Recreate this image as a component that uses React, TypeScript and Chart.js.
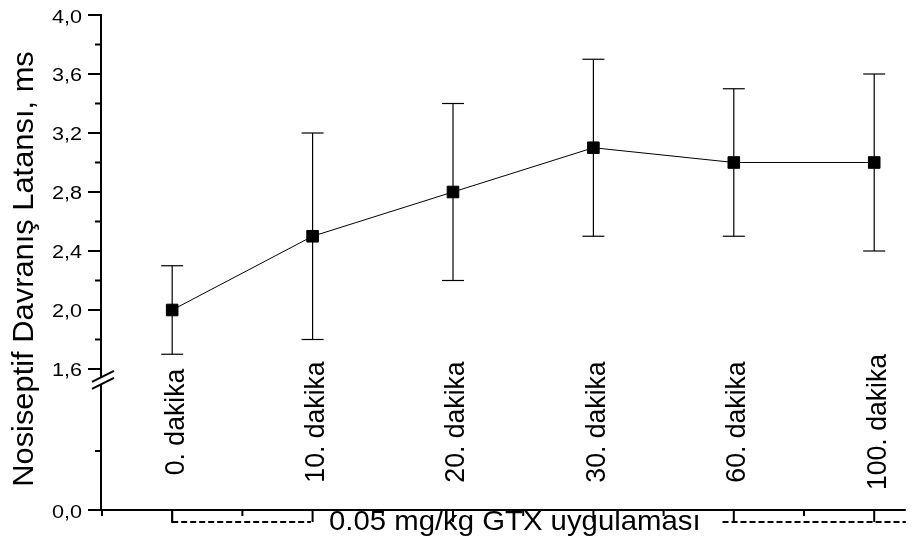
import React, { useEffect, useRef } from 'react';
import { Chart, registerables } from 'chart.js';

Chart.register(...registerables);

// ---- data ----
const CATEGORIES = ['0. dakika', '10. dakika', '20. dakika', '30. dakika', '60. dakika', '100. dakika'];
const MEANS = [2.0, 2.5, 2.8, 3.1, 3.0, 3.0];
const ERRORS = [0.3, 0.7, 0.6, 0.6, 0.5, 0.6];

const Y_MAJOR_TICKS = [1.6, 2.0, 2.4, 2.8, 3.2, 3.6, 4.0];
const Y_MINOR_TICKS = [1.8, 2.2, 2.6, 3.0, 3.4, 3.8];
const Y_LOWER_LABEL = '0,0';
const Y_TITLE = 'Nosiseptif Davranış Latansı, ms';
const X_TITLE = '0.05 mg/kg GTX uygulaması';

// broken axis: the "0,0" baseline sits below the break at this virtual position
const Y_AXIS_MIN = 0.644;
const Y_AXIS_MAX = 4.0;
const Y_LOWER_MINOR = Y_AXIS_MIN + 0.4;
const Y_BREAK = 1.53;

const X_MIN = -0.507;
const X_MAX = 5.225;

const FONT = '"Liberation Sans", Arial, Helvetica, sans-serif';

function fmt(v: number) {
  return v.toFixed(1).replace('.', ',');
}

function drawText(
  ctx: CanvasRenderingContext2D,
  text: string,
  x: number,
  y: number,
  size: number,
  sx: number,
  rot: number,
  align: CanvasTextAlign,
) {
  ctx.save();
  ctx.translate(x, y);
  ctx.rotate(rot);
  ctx.scale(sx, 1);
  ctx.font = `${size}px ${FONT}`;
  ctx.textAlign = align;
  ctx.textBaseline = 'alphabetic';
  ctx.fillStyle = '#000';
  ctx.fillText(text, 0, 0);
  ctx.restore();
}

function line(ctx: CanvasRenderingContext2D, x1: number, y1: number, x2: number, y2: number) {
  ctx.beginPath();
  ctx.moveTo(x1, y1);
  ctx.lineTo(x2, y2);
  ctx.stroke();
}

const errorBarPlugin = {
  id: 'errorBars',
  beforeDatasetsDraw(chart: any) {
    const ctx: CanvasRenderingContext2D = chart.ctx;
    const xs = chart.scales.x;
    const ys = chart.scales.y;
    ctx.save();
    ctx.strokeStyle = '#000';
    ctx.lineWidth = 1.2;
    MEANS.forEach((m, i) => {
      const x = xs.getPixelForValue(i);
      const yTop = ys.getPixelForValue(m + ERRORS[i]);
      const yBot = ys.getPixelForValue(m - ERRORS[i]);
      line(ctx, x, yTop, x, yBot);
      line(ctx, x - 11, yTop, x + 11, yTop);
      line(ctx, x - 11, yBot, x + 11, yBot);
    });
    ctx.restore();
  },
};

const axesPlugin = {
  id: 'customAxes',
  afterDatasetsDraw(chart: any) {
    const ctx: CanvasRenderingContext2D = chart.ctx;
    const xs = chart.scales.x;
    const ys = chart.scales.y;
    const area = chart.chartArea;
    const axX = area.left;
    const axY = area.bottom;
    ctx.save();
    ctx.strokeStyle = '#000';
    ctx.lineCap = 'butt';

    // y axis line
    ctx.lineWidth = 2;
    line(ctx, axX, area.top - 1, axX, axY);
    // x axis line
    line(ctx, axX - 1, axY, area.right, axY);

    // y ticks
    ctx.lineWidth = 2;
    Y_MAJOR_TICKS.forEach((v) => {
      const y = ys.getPixelForValue(v);
      line(ctx, axX - 13, y, axX, y);
      drawText(ctx, fmt(v), axX - 19, y + 7.5, 18, 1.2, 0, 'right');
    });
    Y_MINOR_TICKS.forEach((v) => {
      const y = ys.getPixelForValue(v);
      line(ctx, axX - 6, y, axX, y);
    });
    // lower segment
    const yLowMinor = ys.getPixelForValue(Y_LOWER_MINOR);
    line(ctx, axX - 6, yLowMinor, axX, yLowMinor);
    line(ctx, axX - 13, axY, axX, axY);
    drawText(ctx, Y_LOWER_LABEL, axX - 19, axY + 7.5, 18, 1.2, 0, 'right');

    // axis break
    const yb = ys.getPixelForValue(Y_BREAK);
    const bx = axX + 2;
    ctx.fillStyle = '#fff';
    ctx.beginPath();
    ctx.moveTo(bx - 11, yb + 2.5);
    ctx.lineTo(bx + 11, yb - 8.5);
    ctx.lineTo(bx + 11, yb - 1.5);
    ctx.lineTo(bx - 11, yb + 9.5);
    ctx.closePath();
    ctx.fill();
    ctx.lineWidth = 2;
    line(ctx, bx - 11, yb + 2.5, bx + 11, yb - 8.5);
    line(ctx, bx - 11, yb + 9.5, bx + 11, yb - 1.5);

    // x ticks (major at categories, minor halfway)
    CATEGORIES.forEach((label, i) => {
      const x = xs.getPixelForValue(i);
      line(ctx, x, axY, x, axY + 12);
      const xm = xs.getPixelForValue(i - 0.5);
      line(ctx, xm, axY, xm, axY + 6);
      drawText(ctx, label, x + 11.5, 422, 28, 0.95, -Math.PI / 2, 'center');
    });

    // y title
    drawText(ctx, Y_TITLE, 33, 269, 29, 1.064, -Math.PI / 2, 'center');

    // bracket with treatment label
    const x0 = xs.getPixelForValue(0);
    const bracketY = axY + 12;
    const textCx = xs.getPixelForValue(2.44);
    ctx.font = `28px ${FONT}`;
    const tw = ctx.measureText(X_TITLE).width * 1.047;
    drawText(ctx, X_TITLE, textCx, axY + 20, 28, 1.047, 0, 'center');
    ctx.lineWidth = 1.8;
    line(ctx, x0, axY, x0, bracketY + 1);
    ctx.setLineDash([6, 3]);
    line(ctx, x0, bracketY, textCx - tw / 2 - 18, bracketY);
    line(ctx, textCx + tw / 2 + 22, bracketY, area.right, bracketY);
    ctx.setLineDash([]);

    ctx.restore();
  },
};

export default function App() {
  const canvasRef = useRef<HTMLCanvasElement | null>(null);

  useEffect(() => {
    const canvas = canvasRef.current;
    if (!canvas) return;
    const chart = new Chart(canvas, {
      type: 'line',
      data: {
        datasets: [
          {
            data: MEANS.map((m, i) => ({ x: i, y: m })),
            borderColor: '#000',
            borderWidth: 1,
            pointStyle: 'rect',
            pointRadius: 8.2,
            pointBackgroundColor: '#000',
            pointBorderColor: '#000',
            pointBorderWidth: 1,
            fill: false,
            tension: 0,
            clip: false as any,
          },
        ],
      },
      options: {
        animation: false,
        responsive: false,
        events: [],
        layout: { padding: { left: 101, right: 0, top: 15, bottom: 35 } },
        plugins: {
          legend: { display: false },
          tooltip: { enabled: false },
        },
        scales: {
          x: { type: 'linear', display: false, min: X_MIN, max: X_MAX },
          y: { type: 'linear', display: false, min: Y_AXIS_MIN, max: Y_AXIS_MAX },
        },
      },
      plugins: [errorBarPlugin, axesPlugin],
    });
    return () => chart.destroy();
  }, []);

  return (
    <div style={{ position: 'absolute', left: 0, top: 0, width: 915, height: 545, background: '#fff' }}>
      <canvas ref={canvasRef} width={915} height={545} style={{ display: 'block', width: '915px', height: '545px' }} />
    </div>
  );
}
